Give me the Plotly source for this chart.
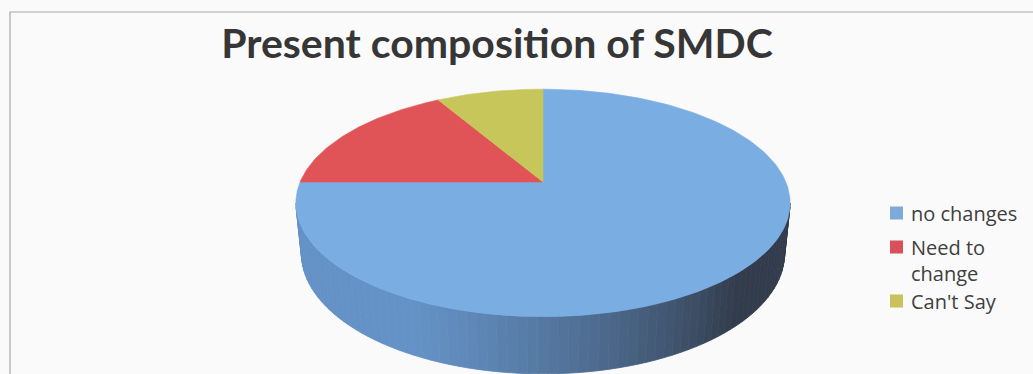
import math
import plotly.graph_objects as go

# Survey responses on the present composition of the SMDC
labels = ["no changes", "Need to change", "Can't Say"]
legend_text = ["no changes", "Need to<br>change", "Can't Say"]
counts = [45, 10, 5]

top_colors = ["#7aaee2", "#e05457", "#c7c65a"]
key_colors = ["#7eaad9", "#d9505a", "#c8c15c"]

W, H = 1033, 374

# 3D pie camera: centre of the disc on screen, focal length, distance, tilt, disc thickness
CX, CY = 543.0, 182.0
F, DIST, TILT, THICK = 1178.0, 4.85, math.radians(26.9), 0.235
COS_T, SIN_T = math.cos(TILT), math.sin(TILT)


def project(theta, z, r=1.0):
    """Project a point of the disc (angle clockwise from 12 o'clock, radius r, height z)."""
    X, Y = r * math.sin(theta), r * math.cos(theta)
    depth = DIST + Y * COS_T - z * SIN_T
    sx = F * X / depth
    sy = F * (Y * SIN_T + z * COS_T) / depth
    return CX + sx, CY - sy


def arc(t0, t1, z, step=math.radians(1.0)):
    n = max(2, int(abs(t1 - t0) / step) + 1)
    return [project(t0 + (t1 - t0) * i / (n - 1), z) for i in range(n)]


total = sum(counts)
bounds = []
acc = 0.0
for c in counts:
    start = 2 * math.pi * acc / total
    acc += c
    bounds.append((start, 2 * math.pi * acc / total))

# the rim is visible between the two silhouette angles
sil = math.acos(-COS_T / DIST)
vis_lo, vis_hi = sil, 2 * math.pi - sil

light = (-0.8, -0.5)
side_ramps = [
    ((50, 60, 76), (100, 146, 198)),
    ((110, 35, 38), (200, 70, 72)),
    ((105, 105, 40), (185, 185, 80)),
]


def shade(theta, ramp):
    d = math.sin(theta) * light[0] + math.cos(theta) * light[1]
    t = min(1.0, max(0.0, (d + 0.2) / 1.0))
    lo, hi = ramp
    return "rgb({},{},{})".format(*[round(a + (b - a) * t) for a, b in zip(lo, hi)])


fig = go.Figure()

# rim of each slice, drawn as thin shaded strips
strip = math.radians(2.0)
for (t0, t1), ramp in zip(bounds, side_ramps):
    a, b = max(t0, vis_lo), min(t1, vis_hi)
    if b <= a:
        continue
    n = max(1, int((b - a) / strip))
    for i in range(n):
        s0 = a + (b - a) * i / n
        s1 = a + (b - a) * (i + 1) / n
        pts = arc(s0, s1, 0.0, step=strip / 4) + arc(s1, s0, -THICK, step=strip / 4)
        col = shade((s0 + s1) / 2, ramp)
        fig.add_trace(go.Scatter(
            x=[p[0] for p in pts] + [pts[0][0]],
            y=[p[1] for p in pts] + [pts[0][1]],
            mode="lines", fill="toself", fillcolor=col,
            line=dict(color=col, width=0.8),
            hoverinfo="skip", showlegend=False,
        ))

# top faces of the slices
apex = project(0.0, 0.0, r=0.0)
for (t0, t1), col, lab, c in zip(bounds, top_colors, labels, counts):
    pts = [apex] + arc(t0, t1, 0.0) + [apex]
    fig.add_trace(go.Scatter(
        x=[p[0] for p in pts], y=[p[1] for p in pts],
        mode="lines", fill="toself", fillcolor=col,
        line=dict(color=col, width=0.6),
        name=lab, text=f"{lab}: {c}", hoverinfo="text", showlegend=False,
    ))

# legend: colour keys and entry names (first text line level with its key)
key_x0, key_size, text_x = 890, 13, 909
font_size = 20
line_h = 1.3 * font_size
key_rows = [213, 247, 301]
shapes = [dict(
    type="rect", xref="x", yref="y", x0=10, y0=12, x1=W + 5, y1=H + 5,
    line=dict(color="#a8a8a8", width=1.2), fillcolor="rgba(0,0,0,0)", layer="below",
)]
annotations = []
for text, row, col in zip(legend_text, key_rows, key_colors):
    shapes.append(dict(
        type="rect", xref="x", yref="y",
        x0=key_x0, x1=key_x0 + key_size,
        y0=row - key_size / 2, y1=row + key_size / 2,
        line=dict(width=0), fillcolor=col,
    ))
    n_lines = text.count("<br>") + 1
    annotations.append(dict(
        x=text_x, y=row + (n_lines - 1) * line_h / 2, xref="x", yref="y",
        text=text, showarrow=False, align="left",
        xanchor="left", yanchor="middle",
        font=dict(family="Open Sans", size=font_size, color="#404040"),
    ))

fig.update_layout(
    width=W, height=H,
    margin=dict(l=0, r=0, t=0, b=0),
    paper_bgcolor="#fafafa",
    plot_bgcolor="#fafafa",
    xaxis=dict(range=[0, W], visible=False, fixedrange=True),
    yaxis=dict(range=[H, 0], visible=False, fixedrange=True),
    title=dict(
        text="<b>Present composition of SMDC</b>",
        x=497 / W, xanchor="center", y=1 - 44 / H, yanchor="middle",
        font=dict(family="Lato", size=41, color="#363636"),
    ),
    shapes=shapes,
    annotations=annotations,
    showlegend=False,
)

fig.write_html("out.html")
